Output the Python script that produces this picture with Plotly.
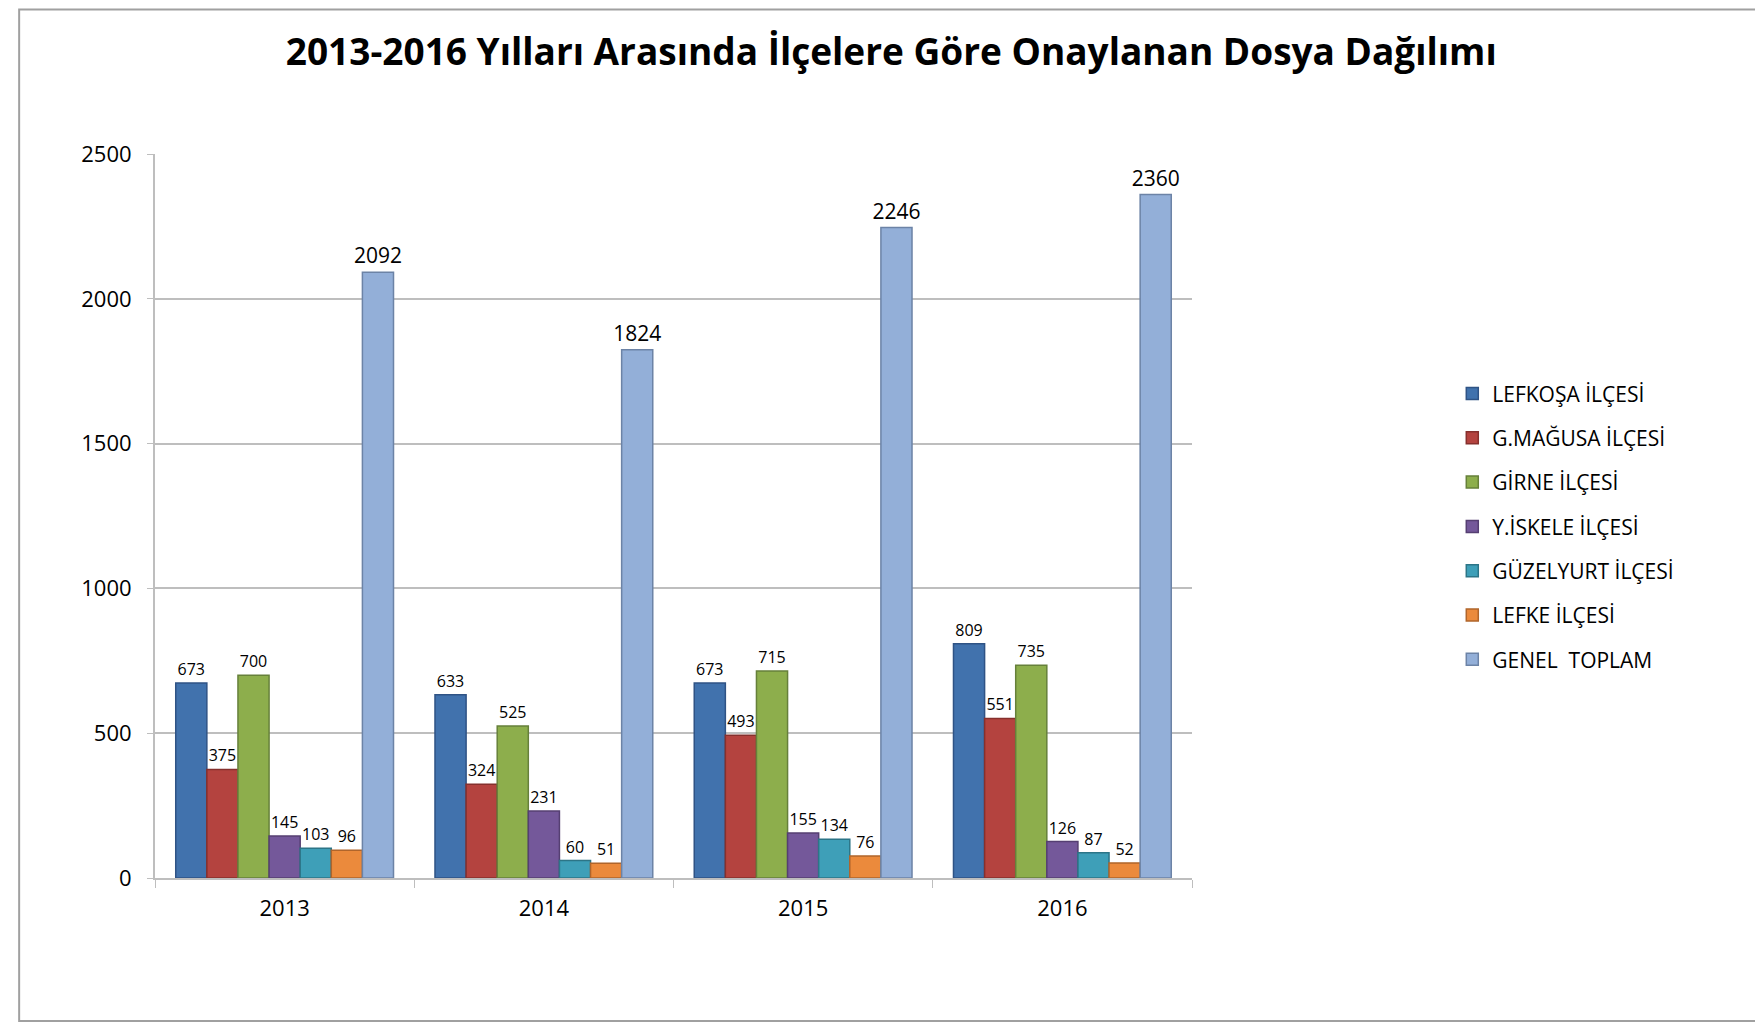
import plotly.graph_objects as go

years = ["2013", "2014", "2015", "2016"]
series_names = ["LEFKOŞA İLÇESİ", "G.MAĞUSA İLÇESİ", "GİRNE İLÇESİ", "Y.İSKELE İLÇESİ",
                "GÜZELYURT İLÇESİ", "LEFKE İLÇESİ", "GENEL  TOPLAM"]
lefkosa = [673, 633, 673, 809]
magusa = [375, 324, 493, 551]
girne = [700, 525, 715, 735]
iskele = [145, 231, 155, 126]
guzelyurt = [103, 60, 134, 87]
lefke = [96, 51, 76, 52]
genel = [2092, 1824, 2246, 2360]
y_ticks = [0, 500, 1000, 1500, 2000, 2500]

values = [lefkosa, magusa, girne, iskele, guzelyurt, lefke, genel]
colors = ["#4172AD", "#B4433F", "#8DAE4C", "#74589A", "#3E9FB8", "#EB8A3C", "#93AFD8"]
side_colors = ["#2F5385", "#86302D", "#66803A", "#553F72", "#2C7587", "#B0652B", "#6C83A6"]

FONT = "Open Sans"
fig = go.Figure()
for i, (name, vals, c, sc) in enumerate(zip(series_names, values, colors, side_colors)):
    big = name.startswith("GENEL")
    fig.add_trace(go.Bar(
        x=years, y=vals, name=name, legendgroup=f"g{i}",
        marker=dict(color=c, line=dict(color=sc, width=1.5)),
        text=[str(v) for v in vals], textposition="outside", constraintext="none",
        textfont=dict(family=FONT, size=21 if big else 16, color="#000000"),
        cliponaxis=False,
    ))

fig.update_layout(
    width=1763, height=1024,
    paper_bgcolor="white", plot_bgcolor="white",
    margin=dict(l=147, r=579, t=146, b=154),
    barmode="group", bargap=0.16, bargroupgap=0.0,
    font=dict(family=FONT, color="#000000"),
    title=dict(text="<b>2013-2016 Yılları Arasında İlçelere Göre Onaylanan Dosya Dağılımı</b>",
               x=0.501, xanchor="center", y=0.957, yanchor="middle",
               font=dict(family=FONT, size=37, color="#000000")),
    legend=dict(x=1.251, y=0.697, xanchor="left", yanchor="top",
                font=dict(family=FONT, size=21, color="#000000"),
                tracegroupgap=14, itemwidth=30, traceorder="grouped", bgcolor="rgba(0,0,0,0)"),
    shapes=[dict(type="rect", xref="paper", yref="paper", x0=-0.131, x1=1.6, y0=-0.1975, y1=1.1995,
                 line=dict(color="#A0A0A0", width=2), fillcolor="rgba(0,0,0,0)", layer="below")],
)
fig.update_yaxes(range=[0, 2500], tickvals=y_ticks, showgrid=True, gridcolor="#BEBEBE", gridwidth=2,
                 showline=True, linecolor="#BEBEBE", linewidth=2, ticks="outside", ticklen=6,
                 tickcolor="#BEBEBE", tickfont=dict(family=FONT, size=22, color="#000000"),
                 ticklabelstandoff=11, zeroline=False)
fig.update_xaxes(showline=True, linecolor="#BEBEBE", linewidth=2, ticks="outside", ticklen=8,
                 tickcolor="#BEBEBE", tickson="boundaries", ticklabelstandoff=10,
                 tickfont=dict(family=FONT, size=22, color="#000000"))

fig.write_html("out.html")
